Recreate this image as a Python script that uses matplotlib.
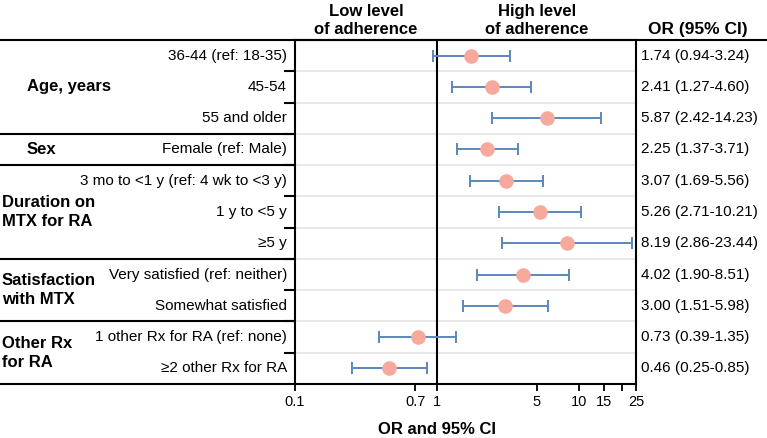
import numpy as np
import matplotlib
matplotlib.use("Agg")
import matplotlib.pyplot as plt
from matplotlib.transforms import blended_transform_factory

plt.rcParams['font.family'] = ['Liberation Sans', 'DejaVu Sans']

# ---- data ----
groups = ["Age, years", "Sex", "Duration on\nMTX for RA", "Satisfaction\nwith MTX", "Other Rx\nfor RA"]
group_sizes = [3, 1, 3, 2, 2]
row_labels = [
    "36-44 (ref: 18-35)", "45-54", "55 and older",
    "Female (ref: Male)",
    "3 mo to <1 y (ref: 4 wk to <3 y)", "1 y to <5 y", "\u22655 y",
    "Very satisfied (ref: neither)", "Somewhat satisfied",
    "1 other Rx for RA (ref: none)", "\u22652 other Rx for RA",
]
odds = [1.74, 2.41, 5.87, 2.25, 3.07, 5.26, 8.19, 4.02, 3.00, 0.73, 0.46]
ci_low = [0.94, 1.27, 2.42, 1.37, 1.69, 2.71, 2.86, 1.90, 1.51, 0.39, 0.25]
ci_high = [3.24, 4.60, 14.23, 3.71, 5.56, 10.21, 23.44, 8.51, 5.98, 1.35, 0.85]
x_ticks = [0.1, 0.7, 1, 5, 10, 15, 20, 25]
x_ticklabels = ["0.1", "0.7", "1", "5", "10", "15", "", "25"]

# ---- layout ----
W, H = 767, 438
fig = plt.figure(figsize=(W / 100, H / 100), dpi=100)
ax_l, ax_r, ax_t, ax_b = 295, 636, 40, 384
ax = fig.add_axes([ax_l / W, 1 - ax_b / H, (ax_r - ax_l) / W, (ax_b - ax_t) / H])

n = len(odds)
y = np.arange(n) + 0.5
odds = np.array(odds)
err = np.vstack([odds - np.array(ci_low), np.array(ci_high) - odds])

ax.set_xscale('log')
ax.set_xlim(0.1, 25)
ax.set_ylim(n, 0)

# light row separators
for b in range(1, n):
    ax.axhline(b, color='#e6e6e6', lw=1.3, zorder=0)
ax.axvline(1, color='black', lw=1.5, zorder=1)

ax.errorbar(odds, y, xerr=err, fmt='none', ecolor='#5b87bd', elinewidth=1.4,
            capsize=4, capthick=1.4, zorder=2)
ax.plot(odds, y, 'o', color='#f7a99c', ms=10.5, mec='none', zorder=3)

for s in ax.spines.values():
    s.set_linewidth(1.5)

ax.set_xticks(x_ticks)
ax.set_xticklabels(x_ticklabels, fontsize=10.5)
ax.xaxis.set_minor_locator(matplotlib.ticker.NullLocator())
ax.tick_params(axis='x', direction='out', length=5, width=1.3, pad=3)
ax.set_yticks(range(1, n))
ax.set_yticklabels([])
ax.tick_params(axis='y', direction='out', length=8, width=1.5)

ax.set_xlabel("OR and 95% CI", fontsize=12, fontweight='bold')
ax.xaxis.set_label_coords((437 - ax_l) / (ax_r - ax_l), -0.11)

aw = ax_r - ax_l
bt = blended_transform_factory(ax.transAxes, ax.transData)

# left panel labels
for yi, lab in zip(y, row_labels):
    ax.text(-8 / aw, yi, lab, transform=bt, ha='right', va='center', fontsize=11)

start = 0
for g, sz in zip(groups, group_sizes):
    gx = 27 if '\n' not in g else 2
    ax.text((gx - ax_l) / aw, start + sz / 2, g, transform=bt, ha='left', va='center',
            fontsize=12, fontweight='bold', linespacing=1.35)
    start += sz
    ax.plot([-ax_l / aw, 0], [start, start], transform=bt, color='black', lw=1.5,
            clip_on=False, solid_capstyle='butt')

# top rule across the whole figure
ax.plot([-ax_l / aw, (W - ax_l) / aw], [0, 0], transform=bt, color='black', lw=1.5,
        clip_on=False, solid_capstyle='butt')

# right column
for yi, o, lo, hi in zip(y, odds, ci_low, ci_high):
    ax.text((641 - ax_l) / aw, yi, f"{o:.2f} ({lo:.2f}-{hi:.2f})", transform=bt,
            ha='left', va='center', fontsize=11)

# headers
ht = blended_transform_factory(ax.transData, fig.transFigure)
hy = 1 - 37 / H
ax.text(np.sqrt(0.1 * 1), hy, "Low level\nof adherence", transform=ht, ha='center',
        va='bottom', fontsize=12, fontweight='bold', linespacing=1.25)
ax.text(np.sqrt(1 * 25), hy, "High level\nof adherence", transform=ht, ha='center',
        va='bottom', fontsize=12, fontweight='bold', linespacing=1.25)
fig.text(698 / W, hy, "OR (95% CI)", ha='center', va='bottom', fontsize=12.5,
         fontweight='bold')

fig.savefig("out.png", dpi=100)
